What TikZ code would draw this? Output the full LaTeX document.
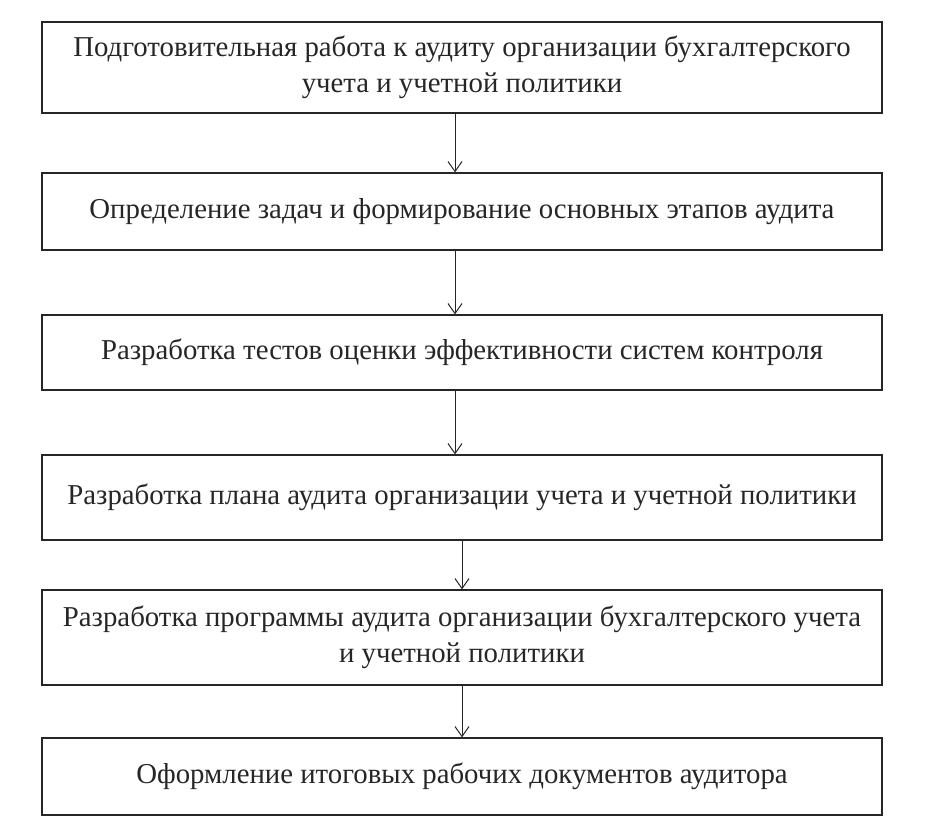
\documentclass[tikz,border=0pt]{standalone}
\usepackage{fontspec}
\setmainfont{Liberation Serif}
\usetikzlibrary{arrows.meta}
\begin{document}
\begin{tikzpicture}[x=1pt,y=-1pt,
  box/.style={draw=black!85,line width=1.2pt,minimum width=840pt,align=center,font=\fontsize{28.8}{36}\selectfont,text=black!85,inner sep=0pt},
  arr/.style={draw=black!85,line width=1pt,-{Straight Barb[length=10pt,width=14pt]}}]
\useasboundingbox (0,0) rectangle (932,832);
\node[box,minimum height=91pt] (b1) at (462,67.5) {Подготовительная работа к аудиту организации бухгалтерского\\учета и учетной политики};
\node[box,minimum height=77pt] (b2) at (462,211.5) {Определение задач и формирование основных этапов аудита};
\node[box,minimum height=75pt] (b3) at (462,352.5) {Разработка тестов оценки эффективности систем контроля};
\node[box,minimum height=85pt] (b4) at (462,497.5) {Разработка плана аудита организации учета и учетной политики};
\node[box,minimum height=95pt] (b5) at (462,637.5) {Разработка программы аудита организации бухгалтерского учета\\и учетной политики};
\node[box,minimum height=77pt] (b6) at (462,776.5) {Оформление итоговых рабочих документов аудитора};
\draw[arr] (b1.south -| 455,0) -- (b2.north -| 455,0);
\draw[arr] (b2.south -| 455,0) -- (b3.north -| 455,0);
\draw[arr] (b3.south -| 455,0) -- (b4.north -| 455,0);
\draw[arr] (b4.south -| 462,0) -- (b5.north -| 462,0);
\draw[arr] (b5.south -| 462,0) -- (b6.north -| 462,0);
\end{tikzpicture}
\end{document}
